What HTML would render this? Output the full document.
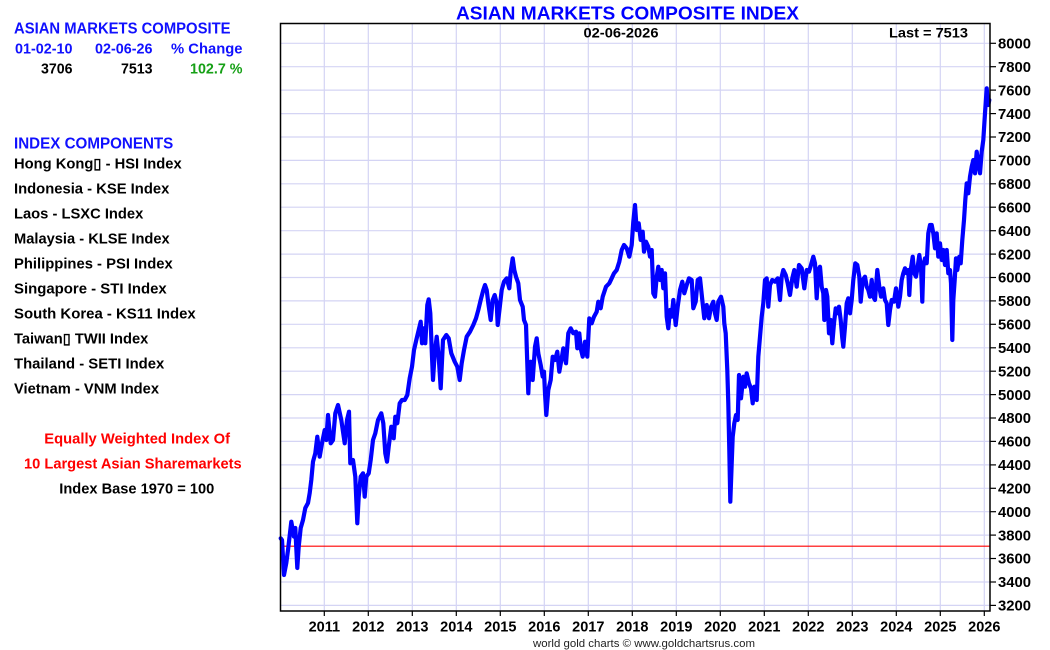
<!DOCTYPE html>
<html>
<head>
<meta charset="utf-8">
<style>
html,body{margin:0;padding:0;background:#fff;}
svg{display:block;}
text{font-family:"Liberation Sans",Arial,sans-serif;font-weight:bold;}
</style>
</head>
<body>
<svg width="1050" height="650" viewBox="0 0 1050 650" xmlns="http://www.w3.org/2000/svg">
<rect x="0" y="0" width="1050" height="650" fill="#fff"/>
<!-- horizontal grid -->
<g stroke="#d4d4f4" stroke-width="1.2">
<line x1="280" x2="990" y1="43.3" y2="43.3"/>
<line x1="280" x2="990" y1="66.7" y2="66.7"/>
<line x1="280" x2="990" y1="90.1" y2="90.1"/>
<line x1="280" x2="990" y1="113.6" y2="113.6"/>
<line x1="280" x2="990" y1="137.0" y2="137.0"/>
<line x1="280" x2="990" y1="160.4" y2="160.4"/>
<line x1="280" x2="990" y1="183.8" y2="183.8"/>
<line x1="280" x2="990" y1="207.2" y2="207.2"/>
<line x1="280" x2="990" y1="230.7" y2="230.7"/>
<line x1="280" x2="990" y1="254.1" y2="254.1"/>
<line x1="280" x2="990" y1="277.5" y2="277.5"/>
<line x1="280" x2="990" y1="300.9" y2="300.9"/>
<line x1="280" x2="990" y1="324.3" y2="324.3"/>
<line x1="280" x2="990" y1="347.8" y2="347.8"/>
<line x1="280" x2="990" y1="371.2" y2="371.2"/>
<line x1="280" x2="990" y1="394.6" y2="394.6"/>
<line x1="280" x2="990" y1="418.0" y2="418.0"/>
<line x1="280" x2="990" y1="441.4" y2="441.4"/>
<line x1="280" x2="990" y1="464.9" y2="464.9"/>
<line x1="280" x2="990" y1="488.3" y2="488.3"/>
<line x1="280" x2="990" y1="511.7" y2="511.7"/>
<line x1="280" x2="990" y1="535.1" y2="535.1"/>
<line x1="280" x2="990" y1="558.5" y2="558.5"/>
<line x1="280" x2="990" y1="582.0" y2="582.0"/>
<line x1="280" x2="990" y1="605.4" y2="605.4"/>
</g>
<!-- vertical grid -->
<g stroke="#d4d4f4" stroke-width="1.2">
<line y1="23" y2="611" x1="324.3" x2="324.3"/>
<line y1="23" y2="611" x1="368.3" x2="368.3"/>
<line y1="23" y2="611" x1="412.3" x2="412.3"/>
<line y1="23" y2="611" x1="456.3" x2="456.3"/>
<line y1="23" y2="611" x1="500.3" x2="500.3"/>
<line y1="23" y2="611" x1="544.3" x2="544.3"/>
<line y1="23" y2="611" x1="588.3" x2="588.3"/>
<line y1="23" y2="611" x1="632.3" x2="632.3"/>
<line y1="23" y2="611" x1="676.3" x2="676.3"/>
<line y1="23" y2="611" x1="720.3" x2="720.3"/>
<line y1="23" y2="611" x1="764.3" x2="764.3"/>
<line y1="23" y2="611" x1="808.3" x2="808.3"/>
<line y1="23" y2="611" x1="852.3" x2="852.3"/>
<line y1="23" y2="611" x1="896.3" x2="896.3"/>
<line y1="23" y2="611" x1="940.3" x2="940.3"/>
<line y1="23" y2="611" x1="984.3" x2="984.3"/>
</g>
<!-- red baseline -->
<line x1="280" x2="990" y1="546.2" y2="546.2" stroke="#ff0000" stroke-width="1.2"/>
<!-- series -->
<polyline fill="none" stroke="#0000ff" stroke-width="4.2" stroke-linejoin="round" stroke-linecap="round" points="280.7,538.3 282,540 284,575 286.3,563 288,550 291.3,521.7 294,536.7 295.3,528 297.3,568 298.7,546.7 300.7,528 303,520 305.3,508 308,503 309.7,493 311.3,480 313,461.7 315.3,453.3 317.3,436.7 319.7,456.7 322,443.3 324.7,430 326.3,440 328,415 330.7,443.3 333,440 335.3,413.3 338,405 341.3,420 344.7,443.3 347,420 349,411.7 350.3,463.3 353,460 355.3,476.7 357.3,523.3 358.7,496.7 360.7,476.7 363,473.3 364.7,496.7 366.3,476.7 368.7,473.3 370.7,460 373,440 375.3,433.3 378,420 381.3,413.3 383.3,423.3 385.3,453.3 387,461.7 388.7,446.7 391.3,426.7 393.7,438.3 395.3,416.7 397.3,423.3 399.7,403.3 402,400 404.7,400 407.3,395 409.7,378.3 412,366.7 414,350 416.3,340 418.7,330 420.7,321.7 422,343.3 423.7,328.3 425.3,343.3 427.3,305 428.7,299.3 430.3,313.3 432,356.7 433,380 434.7,353.3 436.7,336.7 438.7,356.7 440.7,388.3 443,340 446.3,335 448.7,338.3 451.3,353.3 454.7,361.7 457.3,366.7 459.7,380 461.7,363.3 464,350 466.7,336.7 470,331.7 473.3,325 476,318.3 478.3,310 480.7,300 483.3,290 485,285 486.7,290 488.3,303.3 490.7,320 492.7,300 494.7,295 496.7,303.3 497.7,325 500,305 501.7,290 504,281.7 506.7,278.3 509.3,288.3 510.7,271.7 512.7,258.3 514.3,270 516,276.7 518.3,283.3 520,300 522.7,306.7 524,320 526,325 528.3,393.3 529.3,370 530.7,361.7 532.7,380 535,346.7 536.7,338.3 538.3,353.3 540.7,365 542.7,376.7 544,371.7 545,393.3 546.3,415 548.3,390 550.7,380 552.7,356.7 555,360 557.3,351.7 559.3,371.7 561.7,358.3 563.3,348.3 566,363.3 568.3,333.3 570.7,328.3 573.3,333.3 576,331.7 577.3,348.3 579.3,333.3 580.7,348.3 582.7,356.7 585,341.7 587.3,356.7 589.3,318.3 591.7,323.3 594,316.7 596.7,311.7 598.3,301.7 600.7,308.3 602.7,296.7 606,286.7 609.3,283.3 611.7,278.3 614,273.3 616.7,270 619.3,261.7 621.7,250 624,245 626.7,248.3 629.3,256.7 631.7,245 633.3,221.7 635,205 636.7,230 638.7,223.3 640.7,240 642.7,231.7 644,251.7 646,241.7 648.3,246.7 650,256.7 651.7,250 653.3,293.3 655,296.7 656.7,276.7 658.3,266.7 660,280 661.7,270 663.3,288.3 665,273.3 666.7,316.7 668.3,328.3 670,310 671.7,316.7 673.3,300 675.7,325 677.7,306.7 680,290 682.3,281.7 684.3,293.3 686.7,285 689,278.3 691.7,280 693.3,308.3 695.7,301.7 697.7,280 700,278.3 702.3,300 704.3,318.3 706.7,305 709,318.3 711,306.7 713.3,301.7 715,313.3 716.7,320 718.3,301.7 721,296.7 723.3,306.7 724.3,323.3 725.7,333.3 727.3,370 728.3,403.3 729.3,450 730.3,501.7 731.7,463.3 732.7,436.7 734.3,423.3 736,415 737.7,420 739,375 741,398.3 743.3,376.7 745,386.7 746.7,373.3 749,383.3 751,388.3 752.7,403.3 754.3,386.7 756.7,400 758.3,356.7 760,336.7 761.7,316.7 763.3,303.3 765,280 766.7,278.3 768.3,306.7 770,285 772.3,280 775,281.7 777.7,278.3 780,300 781.7,276.7 783.3,270 785.7,275 787.7,283.3 790,295 792.3,278.3 794.3,270 796.7,286.7 799,265 801.7,268.3 804.3,288.3 806.7,270 809,271.7 811,265 813.3,256.7 815,263.3 816.7,298.3 818.3,270 820,266.7 821.7,286.7 823.3,293.3 824.3,320 826,290 827.3,296.7 829,333.3 830.7,320 832.3,343.3 834,323.3 835.7,308.3 837.3,313.3 839,306.7 840.7,320 842.3,338.3 843.3,346.7 845,326.7 846.7,303.3 848.3,298.3 850,313.3 851.7,300 853.3,280 855.3,263.3 857.3,265 859.3,276.7 860.7,301.7 862.7,280 865,276.7 866.7,286.7 868.3,290 870,296.7 871.7,280 873.3,296.7 875,300 877.3,270 879.3,286.7 881,296.7 883.3,288.3 885,300 886.7,303.3 888.3,325 890,310 891.7,300 894,301.7 896,288.3 898.3,306.7 900,296.7 901.7,280 903.3,273.3 905,268.3 906.7,273.3 908.3,270 909.3,295 910.7,270 912.7,256.7 914.3,273.3 916,276.7 917.7,266.7 919.3,255 921,266.7 922.3,301.7 923.3,266.7 925,258.3 926.7,263.3 928.3,233.3 930,225 931.7,225 933.3,233.3 935,248.3 936.7,233.3 938.3,256.7 940,243.3 941.7,260 943.3,250 945,265 946.7,250 948.3,273.3 950,270 951,283.3 952.3,340 953.3,300 954.7,280 956,258.3 957.3,270 959.3,256.7 960.7,263.3 962.3,240 964,220 965.3,200 966.7,183.3 968.3,193.3 970,176.7 971.7,166.7 973.3,160 975,173.3 976.7,151.7 978.3,163.3 980,173.3 981.7,151.7 983.3,140 985,113.3 986.7,88.3 988.3,105 989.3,100"/>
<!-- frame -->
<rect x="280.5" y="23.5" width="709.5" height="587.5" fill="none" stroke="#000" stroke-width="1.5"/>
<!-- right ticks -->
<g stroke="#000" stroke-width="1.2">
<line x1="990" x2="996" y1="43.3" y2="43.3"/><line x1="990" x2="996" y1="66.7" y2="66.7"/><line x1="990" x2="996" y1="90.1" y2="90.1"/><line x1="990" x2="996" y1="113.6" y2="113.6"/><line x1="990" x2="996" y1="137.0" y2="137.0"/><line x1="990" x2="996" y1="160.4" y2="160.4"/><line x1="990" x2="996" y1="183.8" y2="183.8"/><line x1="990" x2="996" y1="207.2" y2="207.2"/><line x1="990" x2="996" y1="230.7" y2="230.7"/><line x1="990" x2="996" y1="254.1" y2="254.1"/><line x1="990" x2="996" y1="277.5" y2="277.5"/><line x1="990" x2="996" y1="300.9" y2="300.9"/><line x1="990" x2="996" y1="324.3" y2="324.3"/><line x1="990" x2="996" y1="347.8" y2="347.8"/><line x1="990" x2="996" y1="371.2" y2="371.2"/><line x1="990" x2="996" y1="394.6" y2="394.6"/><line x1="990" x2="996" y1="418.0" y2="418.0"/><line x1="990" x2="996" y1="441.4" y2="441.4"/><line x1="990" x2="996" y1="464.9" y2="464.9"/><line x1="990" x2="996" y1="488.3" y2="488.3"/><line x1="990" x2="996" y1="511.7" y2="511.7"/><line x1="990" x2="996" y1="535.1" y2="535.1"/><line x1="990" x2="996" y1="558.5" y2="558.5"/><line x1="990" x2="996" y1="582.0" y2="582.0"/><line x1="990" x2="996" y1="605.4" y2="605.4"/>
</g>
<!-- bottom ticks -->
<g stroke="#000" stroke-width="1.2">
<line y1="611" y2="616" x1="324.3" x2="324.3"/><line y1="611" y2="616" x1="368.3" x2="368.3"/><line y1="611" y2="616" x1="412.3" x2="412.3"/><line y1="611" y2="616" x1="456.3" x2="456.3"/><line y1="611" y2="616" x1="500.3" x2="500.3"/><line y1="611" y2="616" x1="544.3" x2="544.3"/><line y1="611" y2="616" x1="588.3" x2="588.3"/><line y1="611" y2="616" x1="632.3" x2="632.3"/><line y1="611" y2="616" x1="676.3" x2="676.3"/><line y1="611" y2="616" x1="720.3" x2="720.3"/><line y1="611" y2="616" x1="764.3" x2="764.3"/><line y1="611" y2="616" x1="808.3" x2="808.3"/><line y1="611" y2="616" x1="852.3" x2="852.3"/><line y1="611" y2="616" x1="896.3" x2="896.3"/><line y1="611" y2="616" x1="940.3" x2="940.3"/><line y1="611" y2="616" x1="984.3" x2="984.3"/>
</g>
<!-- right axis labels -->
<g font-size="14.5" fill="#000">
<text x="998" y="48.5" textLength="33" lengthAdjust="spacingAndGlyphs">8000</text>
<text x="998" y="71.9" textLength="33" lengthAdjust="spacingAndGlyphs">7800</text>
<text x="998" y="95.3" textLength="33" lengthAdjust="spacingAndGlyphs">7600</text>
<text x="998" y="118.8" textLength="33" lengthAdjust="spacingAndGlyphs">7400</text>
<text x="998" y="142.2" textLength="33" lengthAdjust="spacingAndGlyphs">7200</text>
<text x="998" y="165.6" textLength="33" lengthAdjust="spacingAndGlyphs">7000</text>
<text x="998" y="189.0" textLength="33" lengthAdjust="spacingAndGlyphs">6800</text>
<text x="998" y="212.4" textLength="33" lengthAdjust="spacingAndGlyphs">6600</text>
<text x="998" y="235.9" textLength="33" lengthAdjust="spacingAndGlyphs">6400</text>
<text x="998" y="259.3" textLength="33" lengthAdjust="spacingAndGlyphs">6200</text>
<text x="998" y="282.7" textLength="33" lengthAdjust="spacingAndGlyphs">6000</text>
<text x="998" y="306.1" textLength="33" lengthAdjust="spacingAndGlyphs">5800</text>
<text x="998" y="329.5" textLength="33" lengthAdjust="spacingAndGlyphs">5600</text>
<text x="998" y="353.0" textLength="33" lengthAdjust="spacingAndGlyphs">5400</text>
<text x="998" y="376.4" textLength="33" lengthAdjust="spacingAndGlyphs">5200</text>
<text x="998" y="399.8" textLength="33" lengthAdjust="spacingAndGlyphs">5000</text>
<text x="998" y="423.2" textLength="33" lengthAdjust="spacingAndGlyphs">4800</text>
<text x="998" y="446.6" textLength="33" lengthAdjust="spacingAndGlyphs">4600</text>
<text x="998" y="470.1" textLength="33" lengthAdjust="spacingAndGlyphs">4400</text>
<text x="998" y="493.5" textLength="33" lengthAdjust="spacingAndGlyphs">4200</text>
<text x="998" y="516.9" textLength="33" lengthAdjust="spacingAndGlyphs">4000</text>
<text x="998" y="540.3" textLength="33" lengthAdjust="spacingAndGlyphs">3800</text>
<text x="998" y="563.7" textLength="33" lengthAdjust="spacingAndGlyphs">3600</text>
<text x="998" y="587.2" textLength="33" lengthAdjust="spacingAndGlyphs">3400</text>
<text x="998" y="610.6" textLength="33" lengthAdjust="spacingAndGlyphs">3200</text>
</g>
<!-- year labels -->
<g font-size="14.5" fill="#000" text-anchor="middle">
<text x="324.3" y="631.5">2011</text><text x="368.3" y="631.5">2012</text><text x="412.3" y="631.5">2013</text><text x="456.3" y="631.5">2014</text><text x="500.3" y="631.5">2015</text><text x="544.3" y="631.5">2016</text><text x="588.3" y="631.5">2017</text><text x="632.3" y="631.5">2018</text><text x="676.3" y="631.5">2019</text><text x="720.3" y="631.5">2020</text><text x="764.3" y="631.5">2021</text><text x="808.3" y="631.5">2022</text><text x="852.3" y="631.5">2023</text><text x="896.3" y="631.5">2024</text><text x="940.3" y="631.5">2025</text><text x="984.3" y="631.5">2026</text>
</g>
<!-- footer -->
<text x="533" y="647" font-size="11" fill="#222" textLength="222" lengthAdjust="spacingAndGlyphs" style="font-weight:normal">world gold charts © www.goldchartsrus.com</text>
<!-- title -->
<text x="456" y="19.5" font-size="18" fill="#0000ff" textLength="343" lengthAdjust="spacingAndGlyphs">ASIAN MARKETS COMPOSITE INDEX</text>
<text x="583.5" y="37.5" font-size="14" fill="#000" textLength="75" lengthAdjust="spacingAndGlyphs">02-06-2026</text>
<text x="889" y="37.5" font-size="14" fill="#000" textLength="79" lengthAdjust="spacingAndGlyphs">Last = 7513</text>
<!-- left panel -->
<text x="14" y="33.3" font-size="15.5" fill="#1010ff" textLength="216.5" lengthAdjust="spacingAndGlyphs">ASIAN MARKETS COMPOSITE</text>
<text x="15" y="53.3" font-size="15" fill="#1010ff" textLength="57.5" lengthAdjust="spacingAndGlyphs">01-02-10</text>
<text x="95" y="53.3" font-size="15" fill="#1010ff" textLength="57.5" lengthAdjust="spacingAndGlyphs">02-06-26</text>
<text x="171" y="53.3" font-size="15" fill="#1010ff" textLength="71.5" lengthAdjust="spacingAndGlyphs">% Change</text>
<text x="41" y="73.3" font-size="15" fill="#000" textLength="31.5" lengthAdjust="spacingAndGlyphs">3706</text>
<text x="121" y="73.3" font-size="15" fill="#000" textLength="31.5" lengthAdjust="spacingAndGlyphs">7513</text>
<text x="190" y="73.3" font-size="15" fill="#16a016" textLength="52.5" lengthAdjust="spacingAndGlyphs">102.7 %</text>
<text x="14" y="148.3" font-size="15.5" fill="#1010ff" textLength="159.3" lengthAdjust="spacingAndGlyphs">INDEX COMPONENTS</text>
<g font-size="14.7" fill="#000">
<text x="14" y="168.3" textLength="167.7" lengthAdjust="spacingAndGlyphs">Hong Kong▯ - HSI Index</text>
<text x="14" y="193.3" textLength="155.3" lengthAdjust="spacingAndGlyphs">Indonesia - KSE Index</text>
<text x="14" y="218.3" textLength="129.3" lengthAdjust="spacingAndGlyphs">Laos - LSXC Index</text>
<text x="14" y="243.3" textLength="155.7" lengthAdjust="spacingAndGlyphs">Malaysia - KLSE Index</text>
<text x="14" y="268.3" textLength="158.7" lengthAdjust="spacingAndGlyphs">Philippines - PSI Index</text>
<text x="14" y="293.3" textLength="152.7" lengthAdjust="spacingAndGlyphs">Singapore - STI Index</text>
<text x="14" y="318.3" textLength="181.7" lengthAdjust="spacingAndGlyphs">South Korea - KS11 Index</text>
<text x="14" y="343.3" textLength="134.3" lengthAdjust="spacingAndGlyphs">Taiwan▯ TWII Index</text>
<text x="14" y="368.3" textLength="150.3" lengthAdjust="spacingAndGlyphs">Thailand - SETI Index</text>
<text x="14" y="393.3" textLength="145" lengthAdjust="spacingAndGlyphs">Vietnam - VNM Index</text>
</g>
<text x="44.3" y="443.3" font-size="14.7" fill="#ff0000" textLength="185.7" lengthAdjust="spacingAndGlyphs">Equally Weighted Index Of</text>
<text x="24" y="468.3" font-size="14.7" fill="#ff0000" textLength="217.7" lengthAdjust="spacingAndGlyphs">10 Largest Asian Sharemarkets</text>
<text x="59.3" y="493.3" font-size="14.7" fill="#000" textLength="155" lengthAdjust="spacingAndGlyphs">Index Base 1970 = 100</text>
</svg>
</body>
</html>
